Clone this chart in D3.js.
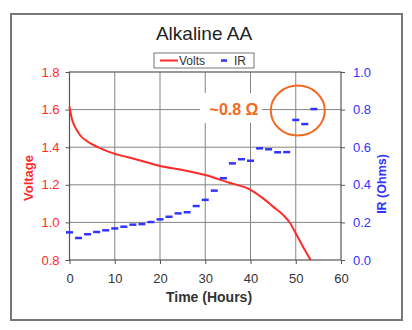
<!DOCTYPE html>
<html>
<head>
<meta charset="utf-8">
<script src="https://cdn.jsdelivr.net/npm/d3@7/dist/d3.min.js"></script>
<style>
  html, body { margin: 0; padding: 0; background: #fff; }
  svg { display: block; font-family: "Liberation Sans", Arial, sans-serif; }
</style>
</head>
<body>
<svg id="chart" width="412" height="330"></svg>
<script>
// Discharge time (hours) and cell voltage for the red curve
const voltTime = [0, 0.5, 1.2, 2.3, 3.8, 6, 9.7, 14.8, 20, 25, 30, 35.3, 39.8, 42.8, 45, 47.2, 48.7, 50.2, 51.6, 53.3];
const voltValues = [1.615, 1.553, 1.509, 1.465, 1.433, 1.403, 1.367, 1.335, 1.30, 1.279, 1.252, 1.211, 1.176, 1.128, 1.084, 1.04, 0.998, 0.933, 0.871, 0.80];

// Internal resistance readings, taken every two hours
const irTime = [0, 2, 4, 6, 8, 10, 12, 14, 16, 18, 20, 22, 24, 26, 28, 30, 32, 34, 36, 38, 40, 42, 44, 46, 48, 50, 52, 54];
const irValues = [0.147, 0.117, 0.137, 0.149, 0.158, 0.168, 0.177, 0.188, 0.191, 0.202, 0.216, 0.23, 0.248, 0.254, 0.287, 0.32, 0.369, 0.435, 0.514, 0.536, 0.528, 0.594, 0.589, 0.573, 0.574, 0.745, 0.723, 0.803];

// Axis ticks
const timeTicks = [0, 10, 20, 30, 40, 50, 60];
const voltTicks = [0.8, 1.0, 1.2, 1.4, 1.6, 1.8];
const irTicks = [0.0, 0.2, 0.4, 0.6, 0.8, 1.0];

const title = "Alkaline AA";
const annotation = "~0.8 \u03A9";
const highlightPoint = { t: 52, ir: 0.8 };

const svg = d3.select("#chart");
const plot = { left: 69.5, right: 341, top: 72, bottom: 260 };

const x = d3.scaleLinear().domain([0, 60]).range([plot.left, plot.right]);
const yV = d3.scaleLinear().domain([0.8, 1.8]).range([plot.bottom, plot.top]);
const yR = d3.scaleLinear().domain([0, 1]).range([plot.bottom, plot.top]);

const RED = "#ff2a2a", BLUE = "#3333ff", ORANGE = "#f26a21", GRID = "#858585", AXIS = "#555";

// Outer frame
svg.append("rect")
  .attr("x", 11).attr("y", 14).attr("width", 391).attr("height", 306)
  .attr("fill", "#fff").attr("stroke", "#777").attr("stroke-width", 2);

// Title
svg.append("text")
  .attr("x", 204).attr("y", 40).attr("text-anchor", "middle")
  .attr("font-size", 19).attr("fill", "#222").text(title);

// Gridlines
const grid = svg.append("g");
grid.selectAll("line.h").data(voltTicks.slice(1, -1)).join("line")
  .attr("x1", plot.left).attr("x2", plot.right)
  .attr("y1", d => yV(d)).attr("y2", d => yV(d))
  .attr("stroke", GRID).attr("stroke-width", 1);
grid.selectAll("line.v").data(timeTicks.slice(1, -1)).join("line")
  .attr("x1", d => x(d)).attr("x2", d => x(d))
  .attr("y1", plot.top).attr("y2", plot.bottom)
  .attr("stroke", GRID).attr("stroke-width", 1);

// Plot border
svg.append("rect")
  .attr("x", plot.left).attr("y", plot.top)
  .attr("width", plot.right - plot.left).attr("height", plot.bottom - plot.top)
  .attr("fill", "none").attr("stroke", AXIS).attr("stroke-width", 1.2);

// Axes
const fmt = d3.format(".1f");
const gL = svg.append("g").attr("transform", `translate(${plot.left},0)`)
  .call(d3.axisLeft(yV).tickValues(voltTicks).tickFormat(fmt).tickSize(4).tickPadding(6));
const gR = svg.append("g").attr("transform", `translate(${plot.right},0)`)
  .call(d3.axisRight(yR).tickValues(irTicks).tickFormat(fmt).tickSize(4).tickPadding(8));
const gB = svg.append("g").attr("transform", `translate(0,${plot.bottom})`)
  .call(d3.axisBottom(x).tickValues(timeTicks).tickFormat(d3.format("d")).tickSize(4).tickPadding(10));

[gL, gR, gB].forEach(g => {
  g.select(".domain").remove();
  g.selectAll(".tick line").attr("stroke", AXIS);
  g.selectAll("text").attr("font-size", 13).attr("font-family", "Liberation Sans, Arial, sans-serif");
});
gL.selectAll("text").attr("fill", RED);
gR.selectAll("text").attr("fill", BLUE);
gB.selectAll("text").attr("fill", "#333");

// Axis titles
svg.append("text")
  .attr("transform", "translate(33,178) rotate(-90)")
  .attr("text-anchor", "middle").attr("font-size", 13).attr("font-weight", "bold")
  .attr("fill", RED).text("Voltage");
svg.append("text")
  .attr("transform", "translate(386,184) rotate(-90)")
  .attr("text-anchor", "middle").attr("font-size", 12.5).attr("font-weight", "bold")
  .attr("fill", BLUE).text("IR (Ohms)");
svg.append("text")
  .attr("x", 209).attr("y", 302).attr("text-anchor", "middle")
  .attr("font-size", 14).attr("font-weight", "bold").attr("fill", "#333")
  .text("Time (Hours)");

// Voltage curve
const voltData = voltTime.map((t, i) => ({ t, v: voltValues[i] }));
svg.append("path")
  .datum(voltData)
  .attr("fill", "none").attr("stroke", RED).attr("stroke-width", 2)
  .attr("d", d3.line().x(d => x(d.t)).y(d => yV(d.v)).curve(d3.curveMonotoneX));

// IR dash markers
const irData = irTime.map((t, i) => ({ t, r: irValues[i] }));
svg.append("g").selectAll("rect").data(irData).join("rect")
  .attr("x", d => x(d.t) - 3.5).attr("y", d => yR(d.r) - 1.25)
  .attr("width", 7).attr("height", 2.5).attr("fill", BLUE);

// Annotation label on a white backing
const ann = svg.append("g");
ann.append("rect")
  .attr("x", 200).attr("y", 93).attr("width", 62).attr("height", 30).attr("fill", "#fff");
ann.append("text")
  .attr("x", 234).attr("y", 115).attr("text-anchor", "middle")
  .attr("font-size", 16).attr("font-weight", "bold").attr("fill", ORANGE)
  .text(annotation);

// Highlight ring around the late IR readings
svg.append("ellipse")
  .attr("cx", x(highlightPoint.t) - 7).attr("cy", yR(highlightPoint.ir) + 1)
  .attr("rx", 27).attr("ry", 25)
  .attr("fill", "none").attr("stroke", ORANGE).attr("stroke-width", 2);

// Legend
const lg = svg.append("g");
lg.append("rect")
  .attr("x", 154).attr("y", 53).attr("width", 100).attr("height", 15)
  .attr("fill", "#fff").attr("stroke", "#777").attr("stroke-width", 1);
lg.append("line")
  .attr("x1", 160).attr("x2", 178).attr("y1", 60.5).attr("y2", 60.5)
  .attr("stroke", RED).attr("stroke-width", 2);
lg.append("text").attr("x", 179).attr("y", 65).attr("font-size", 12).attr("fill", "#333").text("Volts");
lg.append("rect").attr("x", 221).attr("y", 59.3).attr("width", 6).attr("height", 2.5).attr("fill", BLUE);
lg.append("text").attr("x", 234).attr("y", 65).attr("font-size", 12).attr("fill", "#333").text("IR");
</script>
</body>
</html>
